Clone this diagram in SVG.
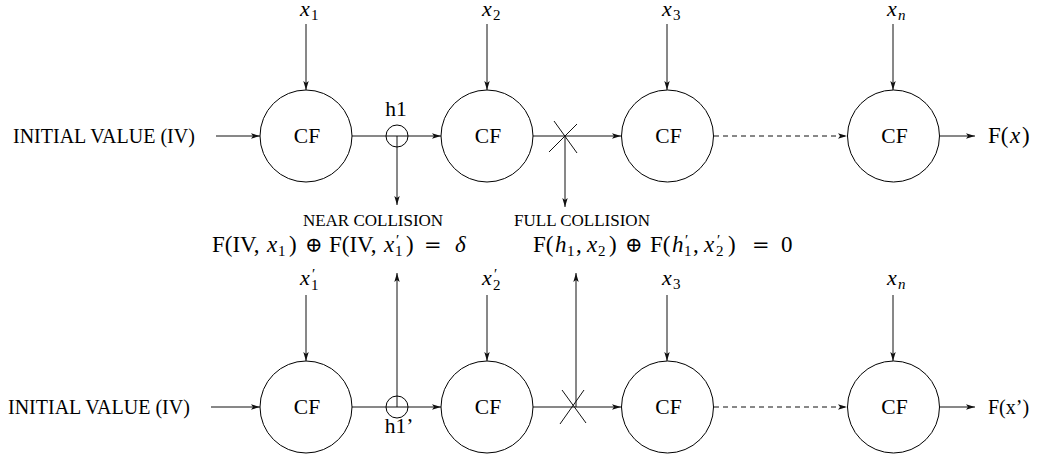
<svg xmlns="http://www.w3.org/2000/svg" width="1043" height="459" viewBox="0 0 1043 459">
<style>
text{font-family:"Liberation Serif","Times New Roman",serif;fill:#000}
.lbl{font-size:20px}
.cf{font-size:21.5px;text-anchor:middle}
.small{font-size:17px;text-anchor:middle}
.math{font-size:23px}
.var{font-size:22px}
.sub{font-size:15px}
.op{font-family:"DejaVu Serif",serif;font-size:21px}
.it{font-style:italic}
.node{fill:#fff;stroke:#000;stroke-width:1}
.ln{fill:none;stroke:#111;stroke-width:1}
.dash{stroke-dasharray:5 4}
</style>
<defs>
<marker id="ah" markerWidth="10" markerHeight="8" refX="9" refY="4" orient="auto" markerUnits="userSpaceOnUse">
<path d="M0,1.3 L9,4 L0,6.7 L2,4 Z" fill="#111"/>
</marker>
</defs>

<g id="connectors">
<!-- top row -->
<line class="ln" x1="216" y1="136" x2="260" y2="136" marker-end="url(#ah)"/>
<line class="ln" x1="352" y1="136" x2="441" y2="136" marker-end="url(#ah)"/>
<line class="ln" x1="533" y1="136" x2="621" y2="136" marker-end="url(#ah)"/>
<line class="ln dash" x1="714" y1="136" x2="847" y2="136" marker-end="url(#ah)"/>
<line class="ln" x1="940" y1="136" x2="975" y2="136" marker-end="url(#ah)"/>
<line class="ln" x1="306" y1="24" x2="306" y2="90" marker-end="url(#ah)"/>
<line class="ln" x1="487" y1="24" x2="487" y2="90" marker-end="url(#ah)"/>
<line class="ln" x1="667" y1="24" x2="667" y2="90" marker-end="url(#ah)"/>
<line class="ln" x1="893" y1="24" x2="893" y2="90" marker-end="url(#ah)"/>
<line class="ln" x1="397" y1="136" x2="397" y2="205" marker-end="url(#ah)"/>
<line class="ln" x1="565" y1="136" x2="565" y2="207" marker-end="url(#ah)"/>
<line class="ln" x1="549" y1="152" x2="577" y2="124"/>
<line class="ln" x1="554" y1="121" x2="577" y2="153"/>
<!-- bottom row -->
<line class="ln" x1="211" y1="407" x2="260" y2="407" marker-end="url(#ah)"/>
<line class="ln" x1="352" y1="407" x2="441" y2="407" marker-end="url(#ah)"/>
<line class="ln" x1="533" y1="407" x2="621" y2="407" marker-end="url(#ah)"/>
<line class="ln dash" x1="714" y1="407" x2="847" y2="407" marker-end="url(#ah)"/>
<line class="ln" x1="940" y1="407" x2="975" y2="407" marker-end="url(#ah)"/>
<line class="ln" x1="306" y1="295" x2="306" y2="361" marker-end="url(#ah)"/>
<line class="ln" x1="487" y1="295" x2="487" y2="361" marker-end="url(#ah)"/>
<line class="ln" x1="667" y1="295" x2="667" y2="361" marker-end="url(#ah)"/>
<line class="ln" x1="893" y1="295" x2="893" y2="361" marker-end="url(#ah)"/>
<line class="ln" x1="397" y1="407" x2="397" y2="273" marker-end="url(#ah)"/>
<line class="ln" x1="576" y1="407" x2="576" y2="273" marker-end="url(#ah)"/>
<line class="ln" x1="562" y1="390" x2="586" y2="423"/>
<line class="ln" x1="560" y1="424" x2="584" y2="390"/>
</g>

<g id="h1">
<circle cx="397" cy="136" r="11" fill="none" stroke="#000"/>
<text class="cf" x="396" y="116">h1</text>
</g>
<g id="h1p">
<circle cx="397" cy="407" r="11" fill="none" stroke="#000"/>
<text class="cf" x="399" y="433">h1’</text>
</g>

<g id="iv-top"><text class="lbl" x="13" y="143">INITIAL VALUE (IV)</text></g>
<g id="iv-bottom"><text class="lbl" x="8" y="414">INITIAL VALUE (IV)</text></g>

<g id="cf-top-1"><circle class="node" cx="306" cy="136" r="46"/><text class="cf" x="307" y="143">CF</text></g>
<g id="cf-top-2"><circle class="node" cx="487" cy="136" r="46"/><text class="cf" x="488" y="143">CF</text></g>
<g id="cf-top-3"><circle class="node" cx="667.5" cy="136" r="46"/><text class="cf" x="668.5" y="143">CF</text></g>
<g id="cf-top-n"><circle class="node" cx="893.5" cy="136" r="46"/><text class="cf" x="894.5" y="143">CF</text></g>
<g id="cf-bot-1"><circle class="node" cx="306" cy="407" r="46"/><text class="cf" x="307" y="414">CF</text></g>
<g id="cf-bot-2"><circle class="node" cx="487" cy="407" r="46"/><text class="cf" x="488" y="414">CF</text></g>
<g id="cf-bot-3"><circle class="node" cx="667.5" cy="407" r="46"/><text class="cf" x="668.5" y="414">CF</text></g>
<g id="cf-bot-n"><circle class="node" cx="893.5" cy="407" r="46"/><text class="cf" x="894.5" y="414">CF</text></g>

<g id="inputs-top">
<text class="var"><tspan class="it" x="300" y="16">x</tspan><tspan class="sub" x="311" y="20">1</tspan></text>
<text class="var"><tspan class="it" x="482" y="16">x</tspan><tspan class="sub" x="493" y="20">2</tspan></text>
<text class="var"><tspan class="it" x="662" y="16">x</tspan><tspan class="sub" x="673" y="20">3</tspan></text>
<text class="var"><tspan class="it" x="887" y="16">x</tspan><tspan class="sub it" x="898" y="20">n</tspan></text>
</g>
<g id="inputs-bottom">
<text class="var"><tspan class="it" x="300" y="285">x</tspan><tspan class="sub" x="312" y="279">′</tspan><tspan class="sub" x="311" y="290">1</tspan></text>
<text class="var"><tspan class="it" x="482" y="285">x</tspan><tspan class="sub" x="494" y="279">′</tspan><tspan class="sub" x="493" y="290">2</tspan></text>
<text class="var"><tspan class="it" x="662" y="285">x</tspan><tspan class="sub" x="673" y="289">3</tspan></text>
<text class="var"><tspan class="it" x="887" y="285">x</tspan><tspan class="sub it" x="898" y="289">n</tspan></text>
</g>

<g id="outputs">
<text class="math"><tspan x="988" y="143">F(</tspan><tspan class="it" x="1010" y="143">x</tspan><tspan x="1022" y="143">)</tspan></text>
<text class="lbl" x="988" y="414" font-size="21.5">F(x’)</text>
</g>

<g id="near-collision">
<text class="small" x="373" y="226">NEAR COLLISION</text>
<text class="math"><tspan x="212" y="252">F(IV,</tspan><tspan class="it" x="267" y="252">x</tspan><tspan class="sub" x="278" y="256">1</tspan><tspan x="289" y="252">)</tspan><tspan class="op" x="305" y="252">⊕</tspan><tspan x="329" y="252">F(IV,</tspan><tspan class="it" x="384" y="252">x</tspan><tspan class="sub" x="396" y="245">′</tspan><tspan class="sub" x="395" y="256">1</tspan><tspan x="406" y="252">)</tspan><tspan class="op" x="424" y="252">=</tspan><tspan class="it" x="455" y="252">δ</tspan></text>
</g>
<g id="full-collision">
<text class="small" x="582" y="226" font-size="16.5">FULL COLLISION</text>
<text class="math"><tspan x="533" y="252">F(</tspan><tspan class="it" x="555" y="252">h</tspan><tspan class="sub" x="567" y="256">1</tspan><tspan x="576" y="252">,</tspan><tspan class="it" x="587" y="252">x</tspan><tspan class="sub" x="598" y="256">2</tspan><tspan x="609" y="252">)</tspan><tspan class="op" x="625" y="252">⊕</tspan><tspan x="650" y="252">F(</tspan><tspan class="it" x="672" y="252">h</tspan><tspan class="sub" x="685" y="245">′</tspan><tspan class="sub" x="684" y="256">1</tspan><tspan x="693" y="252">,</tspan><tspan class="it" x="704" y="252">x</tspan><tspan class="sub" x="717" y="245">′</tspan><tspan class="sub" x="716" y="256">2</tspan><tspan x="728" y="252">)</tspan><tspan class="op" x="752" y="252">=</tspan><tspan x="781" y="252">0</tspan></text>
</g>
</svg>
